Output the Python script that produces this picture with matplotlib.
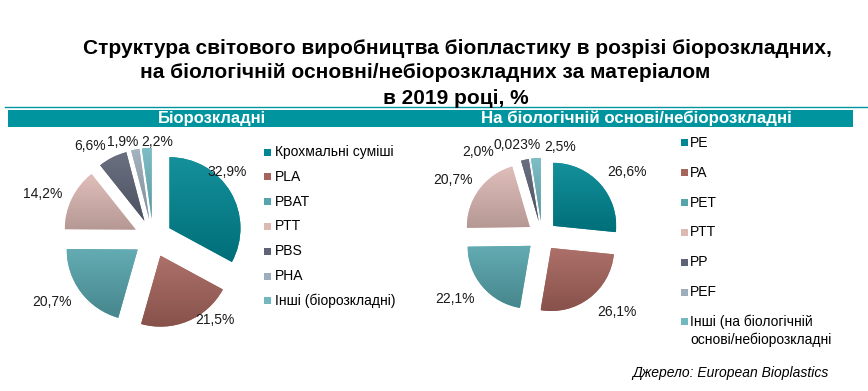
import numpy as np
import matplotlib
matplotlib.use("Agg")
import matplotlib.pyplot as plt
from matplotlib.colors import LinearSegmentedColormap, to_rgb

plt.rcParams['font.family'] = ['Liberation Sans', 'DejaVu Sans']

# дані
labels_bio = ["Крохмальні суміші", "PLA", "PBAT", "PTT", "PBS", "PHA", "Інші (біорозкладні)"]
values_bio = [32.9, 21.5, 20.7, 14.2, 6.6, 1.9, 2.2]
text_bio = ["32,9%", "21,5%", "20,7%", "14,2%", "6,6%", "1,9%", "2,2%"]

labels_nb = ["PE", "PA", "PET", "PTT", "PP", "PEF", "Інші (на біологічній\nоснові/небіорозкладні"]
values_nb = [26.6, 26.1, 22.1, 20.7, 2.0, 0.023, 2.5]
text_nb = ["26,6%", "26,1%", "22,1%", "20,7%", "2,0%", "0,023%", "2,5%"]

colors = ["#008793", "#A5645C", "#56A4AC", "#DDB9B4", "#5E6476", "#9DADBB", "#72B8C1"]

# позиції підписів (в радіусах пирога)
lab_pos_bio = [(1.04, 0.93), (0.87, -1.15), (-1.42, -0.90), (-1.55, 0.62),
               (-0.89, 1.30), (-0.42, 1.35), (0.06, 1.35)]
lab_pos_nb = [(1.35, 1.02), (1.19, -1.21), (-1.38, -1.0), (-1.41, 0.89),
              (-1.02, 1.33), (-0.40, 1.44), (0.29, 1.41)]

W, H = 868, 391
fig = plt.figure(figsize=(W / 100, H / 100), dpi=100)


def px_axes(cx, cy, r, L=2.0):
    # осі з центром пирога в пікселях (cx, cy від верху), r - радіус в пікселях
    side = 2 * L * r
    ax = fig.add_axes([(cx - L * r) / W, (H - cy - L * r) / H, side / W, side / H])
    return ax


def shade(c, k):
    # k>0 світліше, k<0 темніше
    c = np.array(to_rgb(c))
    if k > 0:
        return tuple(c + (1 - c) * k)
    return tuple(c * (1 + k))


def draw_pie(ax, vals, texts, lab_pos, explode):
    wedges, _ = ax.pie(vals, colors=colors, startangle=90, counterclock=False,
                       explode=[explode] * len(vals), wedgeprops=dict(linewidth=0))
    # градієнт як в excel
    grad = np.linspace(0, 1, 100).reshape(-1, 1)
    for w, c in zip(wedges, colors):
        ext = w.get_path().get_extents()
        cmap = LinearSegmentedColormap.from_list('g', [shade(c, -0.18), shade(c, 0.08)])
        im = ax.imshow(grad, extent=[ext.x0, ext.x1, ext.y0, ext.y1], origin='lower',
                       cmap=cmap, aspect='auto', zorder=w.get_zorder())
        im.set_clip_path(w)
    for t, (x, y) in zip(texts, lab_pos):
        ax.text(x, y, t, ha='center', va='center', fontsize=10, color='#1a1a1a', zorder=5)
    ax.set_xlim(-2, 2)
    ax.set_ylim(-2, 2)
    ax.set_aspect('equal')
    ax.axis('off')


ax1 = px_axes(153, 238, 71)
draw_pie(ax1, values_bio, text_bio, lab_pos_bio, 0.27)
ax2 = px_axes(542, 236, 63)
draw_pie(ax2, values_nb, text_nb, lab_pos_nb, 0.24)

# заголовок
title_lines = ["Структура світового виробництва біопластику в розрізі біорозкладних,",
               "на біологічній основні/небіорозкладних за матеріалом",
               "в 2019 році, %"]
fig.text(83 / W, 1 - 48 / H, title_lines[0], ha='left', va='center', fontsize=15, fontweight='bold')
fig.text(140 / W, 1 - 73 / H, title_lines[1], ha='left', va='center', fontsize=15, fontweight='bold')
fig.text(383 / W, 1 - 98 / H, title_lines[2], ha='left', va='center', fontsize=15, fontweight='bold')

# смуги заголовків
teal = "#00949F"
fig.add_artist(plt.Line2D([5 / W, 1], [1 - 107 / H, 1 - 107 / H], color=teal, linewidth=1))
fig.add_artist(plt.Rectangle((8 / W, 1 - 127 / H), (853 - 8) / W, 17 / H, color=teal, linewidth=0))
fig.text(212 / W, 1 - 118.5 / H, "Біорозкладні", ha='center', va='center', fontsize=12,
         fontweight='bold', color='white')
fig.text(636 / W, 1 - 118.5 / H, "На біологічній основі/небіорозкладні", ha='center', va='center',
         fontsize=12.2, fontweight='bold', color='white')


# легенди (вручну, маркер навпроти першого рядка)
def make_legend(labels, x, y0, step, gap):
    for i, (lab, c) in enumerate(zip(labels, colors)):
        y = y0 + i * step
        fig.add_artist(plt.Rectangle(((x - 3.5) / W, 1 - (y + 3.5) / H), 7 / W, 7 / H,
                                     color=c, linewidth=0))
        fig.text((x + gap) / W, 1 - y / H, lab.split("\n")[0], ha='left', va='center', fontsize=10)
        if "\n" in lab:
            fig.text((x + gap) / W, 1 - (y + 17.5) / H, lab.split("\n")[1], ha='left',
                     va='center', fontsize=10)


make_legend(labels_bio, 267, 152, 24.8, 8)
make_legend(labels_nb, 684, 143, 29.8, 6)

fig.text(829 / W, 1 - 373 / H, "Джерело: European Bioplastics", ha='right', va='center',
         fontsize=10, style='italic')

fig.savefig("out.png", dpi=100)
